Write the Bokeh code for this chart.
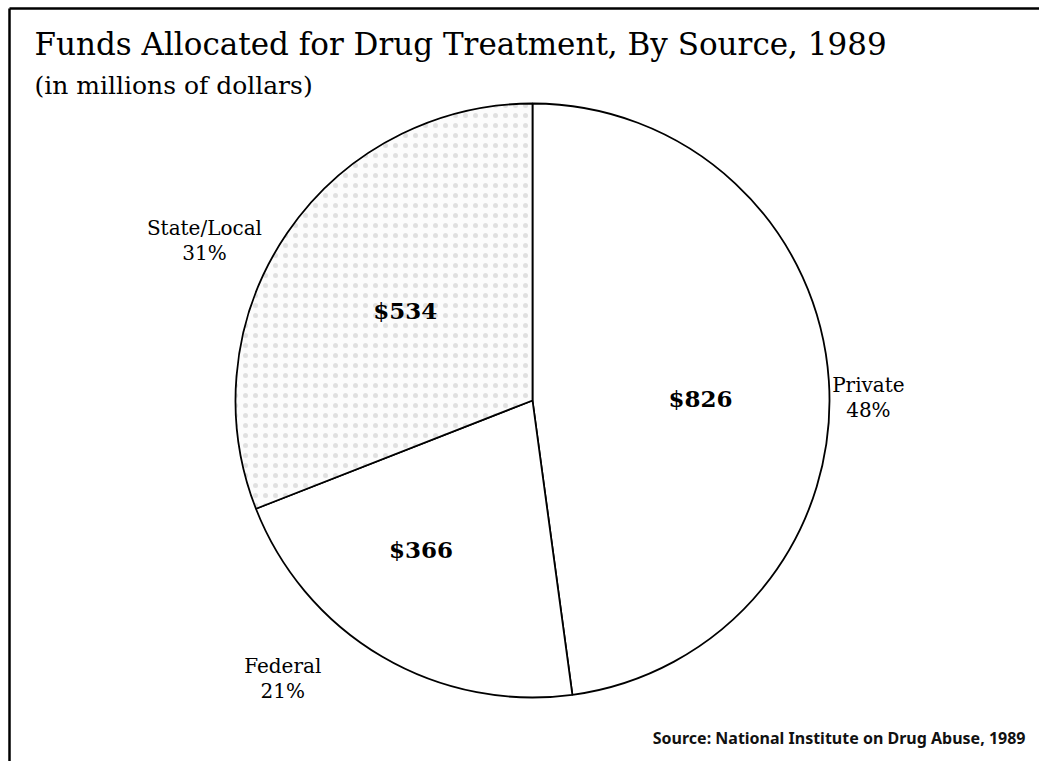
import math
import numpy as np
from bokeh.plotting import figure
from bokeh.models import Range1d, ColumnDataSource
from bokeh.core.properties import value
from bokeh.embed import file_html
from bokeh.resources import INLINE

# --- data -------------------------------------------------------------
sources = ["Private", "Federal", "State/Local"]
amounts = [826, 366, 534]          # millions of dollars
percents = ["48%", "21%", "31%"]
fills = ["white", "white", "#fcfcfc"]
hatches = [" ", " ", "."]

title_text = "Funds Allocated for Drug Treatment, By Source, 1989"
subtitle_text = "(in millions of dollars)"
source_note = "Source: National Institute on Drug Abuse, 1989"

# --- layout -----------------------------------------------------------
W, H = 1039, 761
cx, cy, R = 532, H - 400, 297
# value labels inside the slices: radius (fraction of R) and angle nudge (deg)
inner_r = [0.566, 0.626, 0.525]
inner_nudge = [-3.2, -6.4, -1.0]
# name / percent labels outside the pie
outer_r = [1.131, 1.258, 1.229]
outer_nudge = [-3.4, -11.5, 8.3]

serif = value("DejaVu Serif")

p = figure(width=W, height=H, x_range=Range1d(0, W), y_range=Range1d(0, H),
           output_backend="svg", toolbar_location=None, min_border=0,
           background_fill_color="white", border_fill_color="white")
p.axis.visible = False
p.grid.visible = False
p.outline_line_color = None

# wedges drawn clockwise from 12 o'clock
total = float(sum(amounts))
fracs = np.array(amounts) / total
cum = np.concatenate([[0.0], np.cumsum(fracs)])
starts = [math.pi / 2 - 2 * math.pi * cum[i + 1] for i in range(len(amounts))]
ends = [math.pi / 2 - 2 * math.pi * cum[i] for i in range(len(amounts))]
mids = [(s + e) / 2 for s, e in zip(starts, ends)]

src = ColumnDataSource(dict(start=starts, end=ends, fill=fills, hatch=hatches,
                            name=sources, amount=amounts))
p.wedge(x=cx, y=cy, radius=R, start_angle="start", end_angle="end",
        direction="anticlock", source=src, fill_color="fill",
        hatch_pattern="hatch", hatch_color="#8a8a8a", hatch_alpha=0.25,
        hatch_scale=10, hatch_weight=0.6,
        line_color="black", line_width=1.8)

# dollar amounts inside the slices
vx = [cx + r * R * math.cos(m + math.radians(n)) for r, m, n in zip(inner_r, mids, inner_nudge)]
vy = [cy + r * R * math.sin(m + math.radians(n)) for r, m, n in zip(inner_r, mids, inner_nudge)]
p.text(x=vx, y=vy, text=[f"${a}" for a in amounts], text_align="center",
       text_baseline="middle", text_font=serif, text_font_style="bold",
       text_font_size="23px", text_color="black")

# source name and percent outside the pie
ox = [cx + r * R * math.cos(m + math.radians(n)) for r, m, n in zip(outer_r, mids, outer_nudge)]
oy = [cy + r * R * math.sin(m + math.radians(n)) for r, m, n in zip(outer_r, mids, outer_nudge)]
p.text(x=ox, y=[y + 12.5 for y in oy], text=sources, text_align="center",
       text_baseline="middle", text_font=serif, text_font_size="20px",
       text_color="black")
p.text(x=ox, y=[y - 12.5 for y in oy], text=percents, text_align="center",
       text_baseline="middle", text_font=serif, text_font_size="20px",
       text_color="black")

# titles
p.text(x=[34], y=[H - 43], text=[title_text], text_align="left",
       text_baseline="middle", text_font=serif, text_font_size="31px",
       text_color="black")
p.text(x=[34], y=[H - 85], text=[subtitle_text], text_align="left",
       text_baseline="middle", text_font=serif, text_font_size="25px",
       text_color="black")
p.text(x=[1025], y=[H - 737], text=[source_note], text_align="right",
       text_baseline="middle", text_font=value("Noto Sans"),
       text_font_style="bold", text_font_size="16px", text_color="#111111")

# page frame: rule along the top and down the left side
p.segment(x0=[9, 9], y0=[H - 8, H - 8], x1=[W, 9], y1=[H - 8, 0],
          line_color="black", line_width=2.5)

open("out.html", "w").write(file_html(p, INLINE))
